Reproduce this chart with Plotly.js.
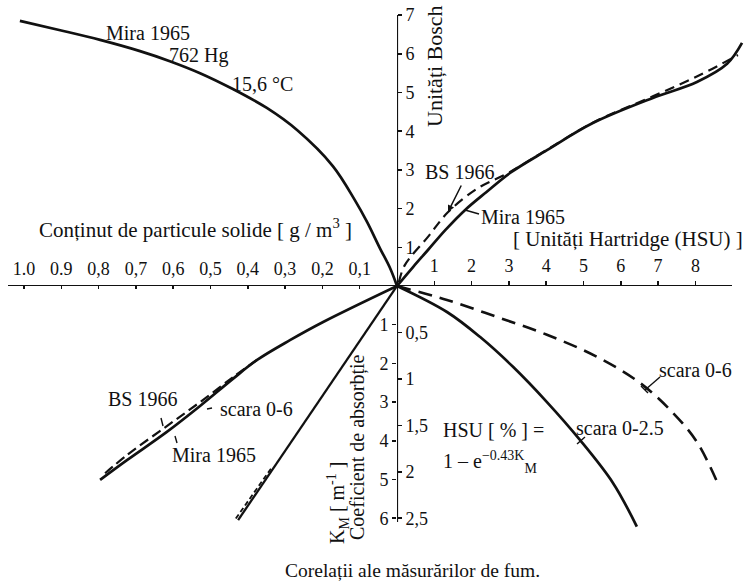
<!DOCTYPE html>
<html>
<head>
<meta charset="utf-8">
<script src="https://cdn.plot.ly/plotly-3.0.1.min.js"></script>
<style>
  html, body { margin: 0; padding: 0; background: #fff; }
  #chart { width: 745px; height: 584px; }
</style>
</head>
<body>
<div id="chart"></div>
<script>
// ---- scales (tick values and labels) ----
const hsuTicks = [1, 2, 3, 4, 5, 6, 7, 8];
const hsuTickText = ['1', '2', '3', '4', '5', '6', '7', '8'];
const particleTicks = [0.1, 0.2, 0.3, 0.4, 0.5, 0.6, 0.7, 0.8, 0.9, 1.0];
const particleTickText = ['0,1', '0,2', '0,3', '0,4', '0,5', '0,6', '0,7', '0,8', '0.9', '1.0'];
const boschTicks = [1, 2, 3, 4, 5, 6, 7];
const boschTickText = ['1', '2', '3', '4', '5', '6', '7'];
const kmTicks = [1, 2, 3, 4, 5, 6];
const kmTickText = ['1', '2', '3', '4', '5', '6'];
const scale25Ticks = [0.5, 1, 1.5, 2, 2.5];
const scale25TickText = ['0,5', '1', '1,5', '2', '2,5'];

// ---- upper left: solid particle content [g/m3] vs. Bosch units (Mira 1965) ----
const miraParticle = [0, 0.019, 0.046, 0.080, 0.113, 0.172, 0.268, 0.349, 0.440, 0.528, 0.609, 0.689, 0.796, 0.903, 1.011];
const miraParticleBosch = [0, 0.47, 0.98, 1.65, 2.22, 3.10, 4.03, 4.60, 5.09, 5.50, 5.81, 6.07, 6.36, 6.61, 6.85];

// ---- upper right: Hartridge units vs. Bosch units ----
const miraHsu = [0, 0.43, 0.83, 1.30, 1.82, 2.40, 3.03, 4.02, 5.25, 6.86, 8.04, 8.85, 9.25];
const miraBosch = [0, 0.49, 0.93, 1.45, 1.96, 2.43, 2.92, 3.51, 4.21, 4.86, 5.27, 5.74, 6.28];
const bsHsu = [0.05, 0.21, 0.83, 1.37, 2.17, 2.98, 4.02, 5.25, 6.86, 8.12, 9.14];
const bsBosch = [0.10, 0.54, 1.27, 1.91, 2.53, 2.92, 3.52, 4.22, 4.90, 5.45, 5.97];

// ---- lower right: Hartridge units vs. absorption coefficient ----
const hsuScale6 = [0, 1.34, 2.68, 4.02, 5.36, 6.51, 7.40, 8.04, 8.61];
const kmScale6 = [0, 0.36, 0.80, 1.26, 1.83, 2.50, 3.28, 4.03, 5.12];
const hsuScale25 = [0, 1.34, 2.23, 3.11, 4.02, 4.91, 5.79, 6.43];
const kmScale25 = [0, 0.28, 0.55, 0.87, 1.25, 1.66, 2.12, 2.59];

// ---- lower left: particle content vs. absorption coefficient ----
const miraLowParticle = [0, 0.198, 0.287, 0.375, 0.440, 0.528, 0.617, 0.724, 0.796];
const miraLowKm = [0, 0.93, 1.40, 1.91, 2.40, 3.10, 3.77, 4.50, 5.01];
const bsLowParticle = [0.375, 0.44, 0.528, 0.617, 0.724, 0.79];
const bsLowKm = [1.91, 2.36, 3.00, 3.62, 4.37, 4.90];
const steepParticle = [0, 0.426];
const steepKm = [0, 6.05];
const steepDashParticle = [0.338, 0.433];
const steepDashKm = [4.72, 6.02];

// ---- figure geometry ----
const W = 745, H = 584;
const OX = 397, OY = 286;          // origin of the four quadrants, px
const PX_HSU = 37.3;               // px per Hartridge unit
const PX_PART = 373;               // px per g/m3
const PX_BOSCH = 38.7;             // px per Bosch unit
const PX_KM = 38.7;                // px per m^-1
const KM_PER_25 = 2.4;             // 0-2.5 scale maps onto 0-6
const ox = OX / W, oy = 1 - OY / H;
const px = p => p / W;
const py = p => 1 - p / H;

const INK = '#111';
const FONT = 'Liberation Serif, Times New Roman, serif';

function line(x, y, xa, ya, dash, width) {
  return {
    type: 'scatter', mode: 'lines', x: x, y: y, xaxis: xa, yaxis: ya,
    line: { color: INK, width: width || 2.7, dash: dash || 'solid', shape: 'spline', smoothing: 1 },
    hoverinfo: 'skip', showlegend: false
  };
}

const traces = [
  line(miraParticle, miraParticleBosch, 'x2', 'y'),
  line(miraHsu, miraBosch, 'x', 'y'),
  line(bsHsu, bsBosch, 'x', 'y', '10px,6px', 2.2),
  line(hsuScale6, kmScale6, 'x', 'y2', '14px,8px', 2.6),
  line(hsuScale25, kmScale25, 'x', 'y3'),
  line(miraLowParticle, miraLowKm, 'x2', 'y2'),
  line(bsLowParticle, bsLowKm, 'x2', 'y2', '10px,5px', 2.2),
  line(steepParticle, steepKm, 'x2', 'y2', 'solid', 2.3),
  line(steepDashParticle, steepDashKm, 'x2', 'y2', '5px,3px', 1.8)
];

const tickFont = { family: FONT, size: 18, color: INK };
const axBase = {
  showgrid: false, zeroline: false, showline: false,
  tickmode: 'array', ticks: 'outside', ticklen: 4, tickwidth: 1.5, tickcolor: INK,
  tickfont: tickFont, fixedrange: true
};

function ann(text, x, y, size, extra) {
  return Object.assign({
    text: text, xref: 'paper', yref: 'paper', x: px(x), y: py(y),
    xanchor: 'center', yanchor: 'middle', showarrow: false,
    font: { family: FONT, size: size || 20, color: INK }
  }, extra || {});
}

function leader(x0, y0, x1, y1, w) {
  return { type: 'line', xref: 'paper', yref: 'paper', x0: px(x0), y0: py(y0), x1: px(x1), y1: py(y1),
           line: { color: INK, width: w || 1.4 } };
}

const layout = {
  width: W, height: H,
  margin: { l: 0, r: 0, t: 0, b: 0 },
  paper_bgcolor: '#fff', plot_bgcolor: 'rgba(0,0,0,0)',
  showlegend: false,
  xaxis: Object.assign({}, axBase, {
    domain: [ox, 1], range: [0, (W - OX) / PX_HSU], anchor: 'y2', side: 'top',
    tickvals: hsuTicks, ticktext: hsuTickText, ticklabelstandoff: 2
  }),
  xaxis2: Object.assign({}, axBase, {
    domain: [0, ox], range: [OX / PX_PART, 0], anchor: 'y2', side: 'top',
    tickvals: particleTicks, ticktext: particleTickText, ticks: 'inside', ticklen: 3,
    ticklabelstandoff: 6
  }),
  yaxis: Object.assign({}, axBase, {
    domain: [oy, 1], range: [0, OY / PX_BOSCH], anchor: 'x2', side: 'right',
    tickvals: boschTicks, ticktext: boschTickText, ticklen: 4, ticklabelstandoff: 0
  }),
  yaxis2: Object.assign({}, axBase, {
    domain: [0, oy], range: [(H - OY) / PX_KM, 0], anchor: 'x', side: 'left',
    tickvals: kmTicks, ticktext: kmTickText, ticklen: 4, ticklabelstandoff: 0
  }),
  yaxis3: Object.assign({}, axBase, {
    overlaying: 'y2', anchor: 'free', position: ox, side: 'right',
    range: [(H - OY) / PX_KM / KM_PER_25, 0],
    tickvals: scale25Ticks, ticktext: scale25TickText, ticklen: 4, ticklabelstandoff: 0
  }),
  shapes: [
    // axis lines
    { type: 'line', xref: 'x2', yref: 'y', x0: (OX - 8) / PX_PART, x1: 0, y0: 0, y1: 0, line: { color: INK, width: 2 } },
    { type: 'line', xref: 'x', yref: 'y', x0: 0, x1: (732 - OX) / PX_HSU, y0: 0, y1: 0, line: { color: INK, width: 2 } },
    { type: 'line', xref: 'x', yref: 'y', x0: 0, x1: 0, y0: 0, y1: (OY - 15) / PX_BOSCH, line: { color: INK, width: 2.2 } },
    { type: 'line', xref: 'x', yref: 'y2', x0: 0, x1: 0, y0: 0, y1: 6.1, line: { color: INK, width: 2.2 } },
    // label leaders
    leader(479, 214, 465, 210),
    leader(161, 418, 163, 426),
    leader(207, 409, 212, 408),
    leader(175, 436, 177, 443),
    leader(660, 377, 645, 390),
    leader(641, 386, 648, 393),
    leader(585, 437, 577, 444)
  ],
  annotations: [
    ann('Mira 1965', 148, 33),
    ann('762 Hg', 198, 56),
    ann('15,6 °C', 262, 84),
    ann('Conținut de particule solide [ g / m<sup>3</sup> ]', 195, 229, 21),
    ann('Unități Bosch', 434, 66, 22, { textangle: -90 }),
    ann('BS 1966', 459, 172),
    { text: '', xref: 'paper', yref: 'paper', x: px(448), y: py(212), ax: 14, ay: -28,
      showarrow: true, arrowhead: 2, arrowsize: 0.9, arrowwidth: 1.5, arrowcolor: INK },
    ann('Mira 1965', 523, 217),
    ann('[ Unități Hartridge (HSU) ]', 628, 239, 21),
    ann('BS 1966', 142, 399),
    ann('scara 0-6', 256, 409),
    ann('Mira 1965', 214, 455),
    ann('K<sub>M</sub> [ m<sup>-1</sup> ]', 338, 503, 20, { textangle: -90 }),
    ann('Coeficient de absorbție', 357, 447, 20, { textangle: -90 }),
    ann('scara 0-6', 695, 370),
    ann('scara 0-2.5', 620, 428),
    ann('HSU [ % ] =', 493, 430),
    ann('1 – e<sup>−0.43K</sup><sub>M</sub>', 490, 462),
    ann('Corelații ale măsurărilor de fum.', 412, 570, 19.5)
  ]
};

Plotly.newPlot('chart', traces, layout, { staticPlot: true, displayModeBar: false });
</script>
</body>
</html>
